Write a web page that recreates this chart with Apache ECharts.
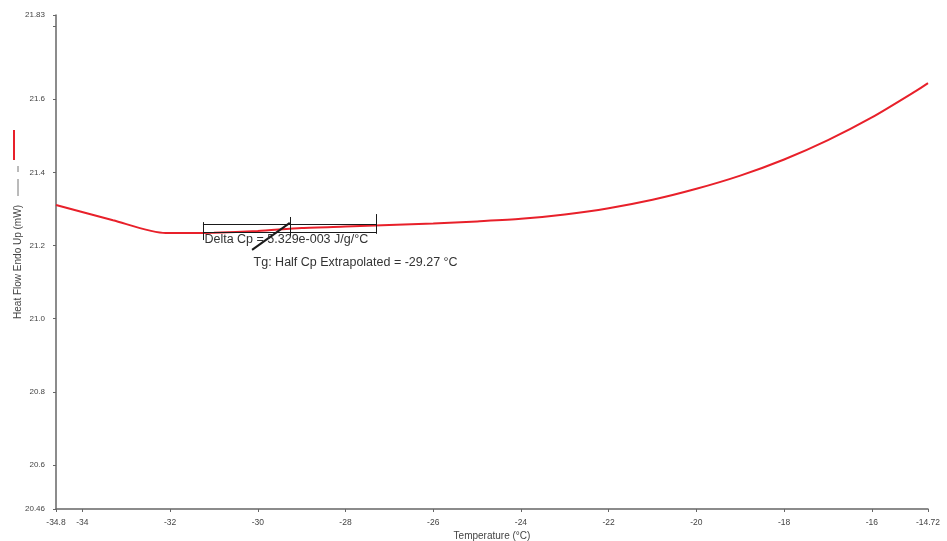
<!DOCTYPE html>
<html>
<head>
<meta charset="utf-8">
<script src="https://cdn.jsdelivr.net/npm/echarts@6/dist/echarts.min.js"></script>
<style>
  html, body { margin: 0; padding: 0; background: #ffffff; }
  #chart { width: 947px; height: 541px; }
</style>
</head>
<body>
<div id="chart"></div>
<script>
// DSC heat-flow trace around the glass transition
const temperature = [-34.6, -33.3, -32.1, -31.5, -31, -30, -29, -28, -27, -26, -25, -24, -23, -22, -21, -20, -19, -18, -17, -16, -15, -14.72];
const heatFlow    = [21.311, 21.269, 21.234, 21.234, 21.235, 21.240, 21.248, 21.252, 21.256, 21.260, 21.266, 21.273, 21.285, 21.302, 21.325, 21.355, 21.391, 21.435, 21.488, 21.550, 21.622, 21.644];

// axis extents and tick labels
const xMin = -34.6, xMax = -14.72;
const yMin = 20.48, yMax = 21.83;
const xTickValues = [-34.6, -34, -32, -30, -28, -26, -24, -22, -20, -18, -16, -14.72];
const xTickLabels = ['-34.8', '-34', '-32', '-30', '-28', '-26', '-24', '-22', '-20', '-18', '-16', '-14.72'];
const yTickValues = [20.48, 20.6, 20.8, 21.0, 21.2, 21.4, 21.6, 21.8, 21.83];
const yLabelValues = [20.48, 20.6, 20.8, 21.0, 21.2, 21.4, 21.6, 21.83];
const yTickLabels = ['20.46', '20.6', '20.8', '21.0', '21.2', '21.4', '21.6', '21.83'];

// glass transition analysis
const tgOnset = -31.25, tgMid = -29.27, tgEnd = -27.3;
const stepTop = 21.259, stepBottom = 21.237;
const deltaCpText = 'Delta Cp = 5.329e-003 J/g/°C';
const tgText = 'Tg: Half Cp Extrapolated = -29.27 °C';

const FONT = '"Liberation Sans", Arial, sans-serif';
const axisColor = '#666';
const textColor = '#444';

function pick(values, labels, v) {
  for (let i = 0; i < values.length; i++) {
    if (Math.abs(values[i] - v) < 1e-6) return labels[i];
  }
  return '';
}

const chart = echarts.init(document.getElementById('chart'), null, { renderer: 'canvas' });

const annotationLine = { color: '#1a1a1a', width: 1, type: 'solid' };

chart.setOption({
  animation: false,
  backgroundColor: '#ffffff',
  grid: { left: 56, right: 19, top: 15, bottom: 32, containLabel: false, outerBoundsMode: 'none' },
  xAxis: {
    type: 'value',
    min: xMin,
    max: xMax,
    name: 'Temperature (°C)',
    nameLocation: 'middle',
    nameGap: 22,
    nameMoveOverlap: false,
    nameTextStyle: { fontFamily: FONT, fontSize: 10, color: textColor },
    axisLine: { show: true, lineStyle: { color: axisColor, width: 1.5 } },
    axisTick: { show: true, length: 3, customValues: xTickValues, lineStyle: { color: axisColor } },
    axisLabel: {
      customValues: xTickValues,
      fontFamily: FONT, fontSize: 8.5, color: textColor, margin: 9,
      formatter: v => pick(xTickValues, xTickLabels, v)
    },
    splitLine: { show: false }
  },
  yAxis: {
    type: 'value',
    min: yMin,
    max: yMax,
    name: 'Heat Flow Endo Up (mW)',
    nameLocation: 'middle',
    nameGap: 33,
    nameMoveOverlap: false,
    nameRotate: 90,
    nameTextStyle: { fontFamily: FONT, fontSize: 10, color: textColor },
    axisLine: { show: true, lineStyle: { color: axisColor, width: 1.5 } },
    axisTick: { show: true, length: 3, customValues: yTickValues, lineStyle: { color: axisColor } },
    axisLabel: {
      customValues: yLabelValues,
      fontFamily: FONT, fontSize: 8, color: textColor, margin: 11,
      formatter: v => pick(yLabelValues, yTickLabels, v)
    },
    splitLine: { show: false }
  },
  graphic: [
    // legend swatch beside the heat-flow axis title
    { type: 'line', shape: { x1: 14, y1: 130, x2: 14, y2: 160 }, style: { stroke: '#e8202a', lineWidth: 2 } },
    { type: 'line', shape: { x1: 18, y1: 166, x2: 18, y2: 172 }, style: { stroke: '#777', lineWidth: 1 } },
    { type: 'line', shape: { x1: 18, y1: 179, x2: 18, y2: 196 }, style: { stroke: '#777', lineWidth: 1 } }
  ],
  series: [
    {
      name: 'Heat Flow',
      type: 'line',
      data: temperature.map((t, i) => [t, heatFlow[i]]),
      showSymbol: false,
      smooth: 0.25,
      lineStyle: { color: '#e8202a', width: 2 },
      silent: true,
      z: 2
    },
    {
      name: 'Tg analysis',
      type: 'line',
      data: [],
      silent: true,
      z: 3,
      markLine: {
        silent: true,
        symbol: ['none', 'none'],
        label: { show: false },
        lineStyle: annotationLine,
        animation: false,
        data: [
          [{ coord: [tgOnset, stepTop] }, { coord: [tgEnd, stepTop] }],
          [{ coord: [tgOnset, stepBottom] }, { coord: [tgEnd, stepBottom] }],
          [{ coord: [tgOnset, 21.264] }, { coord: [tgOnset, 21.215] }],
          [{ coord: [tgMid, 21.278] }, { coord: [tgMid, 21.226] }],
          [{ coord: [tgEnd, 21.286] }, { coord: [tgEnd, 21.232] }],
          [{ coord: [tgMid, 21.262], lineStyle: { color: '#1a1a1a', width: 2 } }, { coord: [-30.13, 21.188] }]
        ]
      },
      markPoint: {
        silent: true,
        symbol: 'circle',
        symbolSize: 1,
        itemStyle: { color: 'rgba(0,0,0,0)' },
        animation: false,
        data: [
          {
            coord: [tgOnset, 21.215],
            label: { show: true, position: 'right', distance: 1, formatter: deltaCpText,
                     fontFamily: FONT, fontSize: 12.5, color: '#333' }
          },
          {
            coord: [-30.13, 21.153],
            label: { show: true, position: 'right', distance: 1, formatter: tgText,
                     fontFamily: FONT, fontSize: 12.5, color: '#333' }
          }
        ]
      }
    }
  ]
});
</script>
</body>
</html>
